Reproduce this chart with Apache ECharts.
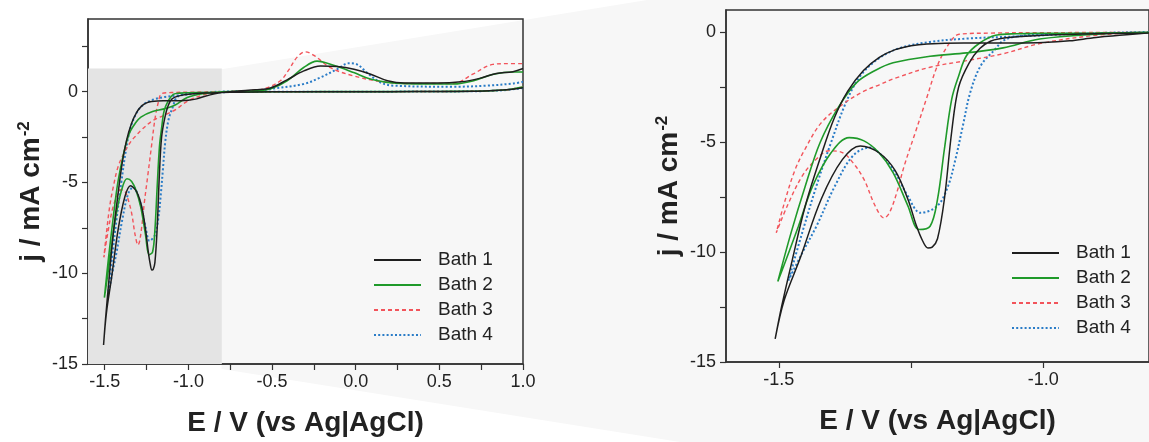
<!DOCTYPE html>
<html>
<head>
<meta charset="utf-8">
<script src="https://cdn.jsdelivr.net/npm/echarts@6/dist/echarts.min.js"></script>
<style>
html,body{margin:0;padding:0;background:#fff;}
#c{width:1149px;height:442px;}
</style>
</head>
<body>
<div id="c"></div>
<script>
// ---- data: [E (V vs Ag|AgCl), j (mA cm^-2)] traced around each CV loop ----
const seriesNames = ['Bath 1', 'Bath 2', 'Bath 3', 'Bath 4'];
const bath1 = [
 [1.0,0.22],[0.95,0.15],[0.9,0.1],[0.8,0.05],[0.7,0.02],[0.5,0.01],[0.2,0],[-0.2,0],[-0.5,-0.01],[-0.7,-0.03],[-0.8,-0.05],[-0.9,-0.08],[-1.0,-0.15],[-1.05,-0.22],[-1.08,-0.3],[-1.10,-0.42],[-1.12,-0.75],[-1.14,-1.4],[-1.16,-2.5],[-1.173,-4.5],[-1.187,-7.6],[-1.2,-9.4],[-1.21,-9.78],[-1.218,-9.82],[-1.228,-9.5],[-1.24,-8.8],[-1.256,-7.6],[-1.28,-6.3],[-1.31,-5.5],[-1.346,-5.18],[-1.38,-5.8],[-1.42,-7.6],[-1.46,-10.3],[-1.49,-12.2],[-1.507,-13.95],
 [-1.495,-12.5],[-1.475,-10.4],[-1.45,-7.9],[-1.42,-5.6],[-1.395,-3.9],[-1.37,-2.7],[-1.34,-1.75],[-1.31,-1.15],[-1.28,-0.8],[-1.25,-0.62],[-1.22,-0.54],[-1.15,-0.5],[-1.05,-0.5],[-1.0,-0.48],[-0.95,-0.4],[-0.9,-0.25],[-0.8,-0.05],[-0.7,0.03],[-0.6,0.1],[-0.51,0.2],[-0.41,0.65],[-0.31,1.14],[-0.21,1.41],[-0.11,1.38],[-0.01,1.23],[0.09,0.96],[0.19,0.6],[0.29,0.47],[0.49,0.47],[0.63,0.54],[0.74,0.73],[0.84,1.0],[0.94,1.1],[1.0,1.27]
];
const bath2 = [
 [1.0,0.25],[0.95,0.17],[0.9,0.1],[0.8,0.05],[0.7,0.02],[0.5,0.01],[0.2,0],[-0.2,0],[-0.5,-0.01],[-0.7,-0.02],[-0.8,-0.03],[-0.9,-0.05],[-1.0,-0.06],[-1.05,-0.08],[-1.09,-0.15],[-1.12,-0.5],[-1.145,-1.07],[-1.16,-2.0],[-1.173,-3.04],[-1.187,-5.33],[-1.2,-7.61],[-1.214,-8.83],[-1.235,-8.98],[-1.256,-7.9],[-1.284,-6.39],[-1.311,-5.48],[-1.339,-4.95],[-1.367,-4.8],[-1.401,-5.48],[-1.436,-7.0],[-1.463,-8.83],[-1.491,-10.65],[-1.502,-11.34],
 [-1.477,-9.13],[-1.45,-7.0],[-1.422,-5.02],[-1.387,-3.4],[-1.353,-2.3],[-1.318,-1.75],[-1.284,-1.4],[-1.214,-1.1],[-1.145,-0.95],[-1.076,-0.72],[-1.007,-0.32],[-0.9,-0.1],[-0.8,-0.01],[-0.6,0.05],[-0.51,0.15],[-0.41,0.6],[-0.311,1.33],[-0.231,1.68],[-0.132,1.45],[-0.012,1.05],[0.087,0.69],[0.187,0.51],[0.3,0.44],[0.585,0.42],[0.705,0.6],[0.824,0.96],[0.943,1.08],[1.0,1.08]
];
const bath3 = [
 [1.0,0.25],[0.95,0.17],[0.9,0.1],[0.8,0.05],[0.7,0.02],[0.5,0.01],[0.2,0],[-0.2,0],[-0.5,-0.01],[-0.8,-0.02],[-1.0,-0.03],[-1.1,-0.05],[-1.159,-0.1],[-1.18,-0.6],[-1.2,-1.52],[-1.221,-3.04],[-1.242,-4.57],[-1.263,-6.09],[-1.277,-7.3],[-1.291,-8.22],[-1.301,-8.45],[-1.318,-7.9],[-1.339,-6.7],[-1.36,-5.94],[-1.38,-5.48],[-1.405,-5.4],[-1.43,-5.8],[-1.456,-6.55],[-1.484,-7.9],[-1.505,-9.13],
 [-1.49,-7.8],[-1.47,-6.3],[-1.45,-5.3],[-1.42,-4.13],[-1.38,-3.3],[-1.34,-2.7],[-1.31,-2.4],[-1.28,-2.1],[-1.214,-1.6],[-1.145,-1.3],[-1.076,-0.99],[-1.007,-0.53],[-0.9,-0.15],[-0.8,-0.02],[-0.65,0.05],[-0.55,0.15],[-0.45,0.6],[-0.4,1.2],[-0.35,1.9],[-0.301,2.19],[-0.25,2.0],[-0.151,1.32],[-0.015,0.87],[0.147,0.56],[0.306,0.45],[0.584,0.45],[0.70,0.96],[0.82,1.5],[0.9,1.54],[1.0,1.54]
];
const bath4 = [
 [1.0,0.2],[0.95,0.14],[0.9,0.09],[0.8,0.04],[0.7,0.02],[0.5,0.01],[0.2,0],[-0.2,0],[-0.5,-0.01],[-0.8,-0.03],[-0.9,-0.06],[-1.0,-0.1],[-1.05,-0.2],[-1.076,-0.4],[-1.09,-0.76],[-1.118,-1.52],[-1.138,-2.74],[-1.152,-4.26],[-1.166,-5.78],[-1.18,-7.0],[-1.2,-7.9],[-1.232,-8.22],[-1.256,-7.46],[-1.284,-6.24],[-1.311,-5.48],[-1.328,-5.25],[-1.36,-5.63],[-1.394,-7.0],[-1.429,-8.83],[-1.456,-10.05],[-1.482,-11.3],
 [-1.456,-9.13],[-1.429,-7.0],[-1.401,-5.0],[-1.373,-3.2],[-1.346,-2.0],[-1.311,-1.2],[-1.27,-0.72],[-1.214,-0.45],[-1.145,-0.3],[-1.05,-0.2],[-0.9,-0.05],[-0.8,0],[-0.6,0.05],[-0.51,0.15],[-0.311,0.42],[-0.211,0.78],[-0.112,1.23],[-0.042,1.56],[0.008,1.5],[0.067,1.05],[0.147,0.51],[0.226,0.33],[0.585,0.27],[0.784,0.33],[0.943,0.45],[1.0,0.54]
];
const shadedE = [-1.6, -0.8];   // zoomed window, E range
const shadedJ = [-15, 1.27];    // zoomed window, j range
const leftXLabels = [-1.5, -1.0, -0.5, 0.0, 0.5, 1.0];
const leftXTicks = [-1.5, -1.25, -1.0, -0.75, -0.5, -0.25, 0, 0.25, 0.5, 0.75, 1.0];
const leftYLabels = [-15, -10, -5, 0];
const leftYTicks = [-15, -12.5, -10, -7.5, -5, -2.5, 0, 2.5];
const rightXLabels = [-1.5, -1.0];
const rightXTicks = [-1.5, -1.25, -1.0];
const rightYLabels = [-15, -10, -5, 0];
const rightYTicks = [-15, -12.5, -10, -7.5, -5, -2.5, 0];

const allData = [bath1, bath2, bath3, bath4];
const colors = ['#1e1e1e', '#1f9a2a', '#f2545b', '#2a7cc7'];
const lineStyles = [
  {width: 1.5, type: 'solid'},
  {width: 1.6, type: 'solid'},
  {width: 1.4, type: [4, 3]},
  {width: 2, type: [2, 2.2]}
];
const FONT = 'Liberation Sans, Arial, sans-serif';

function xAxisCfg(gi, min, max, labels, ticks) {
  return {
    type: 'value', gridIndex: gi, min: min, max: max,
    name: 'E / V (vs Ag|AgCl)', nameLocation: 'middle', nameGap: 45,
    nameTextStyle: {fontSize: 28, fontWeight: 'bold', color: '#222', fontFamily: FONT},
    axisLine: {show: true, onZero: false, lineStyle: {color: '#333', width: 1.5}},
    axisTick: {show: true, length: 6, customValues: ticks, lineStyle: {color: '#333', width: 1.2}},
    axisLabel: {customValues: labels, margin: 9, fontSize: 18, color: '#222', fontFamily: FONT,
      formatter: v => Number(v).toFixed(1)},
    splitLine: {show: false}
  };
}
function yAxisCfg(gi, min, max, labels, ticks) {
  return {
    type: 'value', gridIndex: gi, min: min, max: max,
    name: '{a|j / mA cm}{s|-2}', nameLocation: 'middle', nameGap: 42,
    nameTextStyle: {color: '#222', fontFamily: FONT,
      rich: {a: {fontSize: 28, fontWeight: 'bold', fontFamily: FONT, color: '#222', lineHeight: 30},
             s: {fontSize: 17, fontWeight: 'bold', fontFamily: FONT, color: '#222', verticalAlign: 'top', lineHeight: 14, padding: [0,0,8,1]}}},
    axisLine: {show: true, onZero: false, lineStyle: {color: '#333', width: 1.5}},
    axisTick: {show: true, length: 6, customValues: ticks, lineStyle: {color: '#333', width: 1.2}},
    axisLabel: {customValues: labels, margin: 10, fontSize: 18, color: '#222', fontFamily: FONT,
      formatter: v => String(Math.round(v))},
    splitLine: {show: false}
  };
}

const series = [];
// shaded zoom window in the left panel
series.push({
  type: 'line', xAxisIndex: 0, yAxisIndex: 0, data: [], z: 1, silent: true,
  markArea: {silent: true, itemStyle: {color: '#e4e4e4'},
    data: [[{coord: [shadedE[0], shadedJ[0]]}, {coord: [shadedE[1], shadedJ[1]]}]]}
});
for (let g = 0; g < 2; g++) {
  for (let i = 0; i < 4; i++) {
    series.push({
      name: seriesNames[i], type: 'line', xAxisIndex: g, yAxisIndex: g,
      data: allData[i], showSymbol: false, symbol: 'none', smooth: 0.35,
      clip: true, z: 3 + (3 - i),
      color: colors[i],
      lineStyle: Object.assign({color: colors[i]}, lineStyles[i])
    });
  }
}

function legendCfg(left, top) {
  return {
    data: seriesNames, orient: 'vertical', left: left, top: top, padding: 0,
    itemWidth: 47, itemHeight: 20, itemGap: 5,
    itemStyle: {opacity: 0},
    textStyle: {fontSize: 19, color: '#222', fontFamily: FONT, padding: [0, 0, 0, 12], lineHeight: 20}
  };
}

const option = {
  animation: false,
  backgroundColor: '#ffffff',
  graphic: [{
    type: 'polygon', z: -10, silent: true,
    shape: {points: [[221.5, 69.3], [647, 0], [1149, 0], [1149, 442], [680, 442], [221.5, 369]]},
    style: {fill: '#f7f7f7'}
  }],
  grid: [
    {left: 88, top: 19, width: 435, height: 350, show: true, borderColor: '#333', borderWidth: 1.5, backgroundColor: 'transparent'},
    {left: 726, top: 10, width: 434, height: 352, show: true, borderColor: '#333', borderWidth: 1.5, backgroundColor: 'transparent'}
  ],
  xAxis: [
    xAxisCfg(0, -1.6, 1.0, leftXLabels, leftXTicks),
    xAxisCfg(1, -1.6, -0.8, rightXLabels, rightXTicks)
  ],
  yAxis: [
    yAxisCfg(0, -15, 4, leftYLabels, leftYTicks),
    yAxisCfg(1, -15, 1, rightYLabels, rightYTicks)
  ],
  legend: [legendCfg(373, 250), legendCfg(1011, 243)],
  series: series
};

const chart = echarts.init(document.getElementById('c'), null, {renderer: 'canvas'});
chart.setOption(option);
</script>
</body>
</html>
